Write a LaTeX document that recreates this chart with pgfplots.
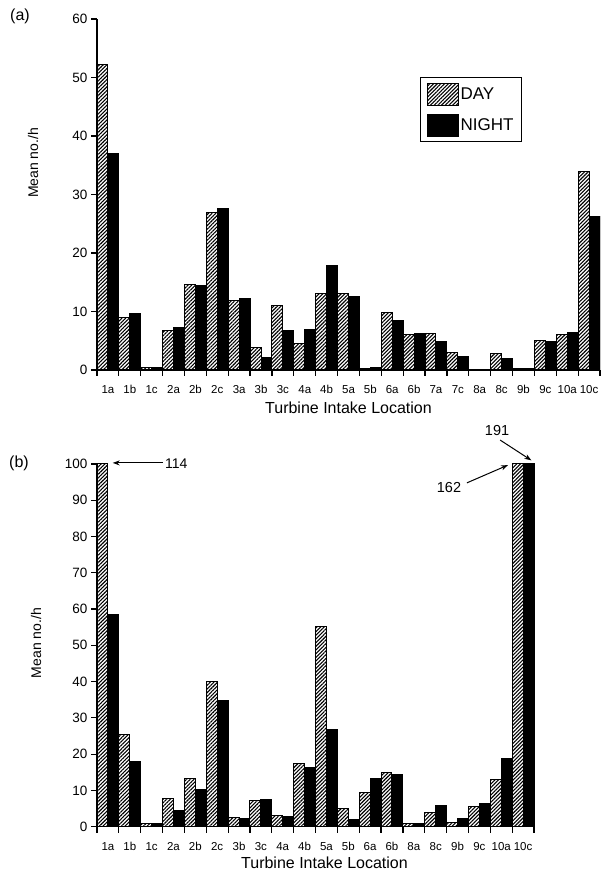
\documentclass[border=0pt]{standalone}
\usepackage{fontspec}
\setmainfont{Liberation Sans}
\usepackage{pgfplots}
\usepackage{pgfplotstable}
\pgfplotsset{compat=1.18}
\usetikzlibrary{patterns.meta,arrows.meta}

% panel (a): 23 intake locations
\pgfplotstableread{
x day night
0 52.3 37.0
1 9.0 9.6
2 0.5 0.4
3 6.7 7.2
4 14.6 14.4
5 26.9 27.6
6 11.8 12.3
7 3.8 2.2
8 11.1 6.7
9 4.6 7.0
10 13.1 17.9
11 13.1 12.5
12 0.2 0.45
13 9.9 8.4
14 6.0 6.3
15 6.3 4.8
16 3.0 2.3
17 0.1 0.1
18 2.8 1.9
19 0.2 0.3
20 5.1 4.9
21 6.1 6.4
22 34.0 26.3
}\tabA

% panel (b): 20 intake locations (bars at 100 are cut off: 114, 162, 191)
\pgfplotstableread{
x day night
0 100 58.6
1 25.3 17.9
2 1.0 0.85
3 7.9 4.5
4 13.4 10.2
5 40.0 34.7
6 2.6 2.3
7 7.1 7.6
8 3.1 2.8
9 17.3 16.2
10 55.3 26.8
11 4.9 1.9
12 9.5 13.2
13 14.9 14.3
14 0.75 0.9
15 3.8 5.8
16 1.1 2.2
17 5.7 6.4
18 13.0 18.9
19 100 100
}\tabB

\pgfplotsset{
  turb/.style={
    scale only axis,
    ybar=0pt, bar width=10.93pt,
    axis lines*=left,
    axis line style={line width=1.2pt,-},
    tick align=outside,
    major tick length=6pt,
    tick style={line width=1.2pt,black},
    xticklabels={},
    extra x tick style={major tick length=0pt},
    xticklabel style={font=\fontsize{11.5}{11.5}\selectfont, yshift=-12pt},
    yticklabel style={font=\fontsize{13.5}{13.5}\selectfont},
    /pgf/number format/assume math mode=true,
    xlabel={Turbine Intake Location},
    xlabel style={font=\fontsize{16}{16}\selectfont, at={(rel axis cs:0.5,0)}, anchor=center},
    ylabel={Mean no./h},
    ylabel style={font=\fontsize{14}{14}\selectfont, anchor=center},
    ymin=0,
  },
  dayb/.style={draw=black, line width=1pt, fill=white,
    pattern={Lines[angle=45,distance=2.6pt,line width=1.1pt]},
    legend image code/.code={\draw[##1] (0pt,-11pt) rectangle (31pt,11pt);}},
  nightb/.style={draw=black, line width=1pt, fill=black,
    legend image code/.code={\draw[##1] (0pt,-11pt) rectangle (31pt,11pt);}},
}

\begin{document}
\begin{tikzpicture}
\path[use as bounding box] (0,0) rectangle (600pt,874pt);

\begin{axis}[turb,
  at={(97pt,504pt)}, anchor=south west,
  width=503pt, height=351pt,
  xmin=-0.5, xmax=22.5, ymax=60,
  xtick={-0.5,0.5,...,22.5},
  extra x ticks={0,...,22},
  extra x tick labels={1a,1b,1c,2a,2b,2c,3a,3b,3c,4a,4b,5a,5b,6a,6b,7a,7c,8a,8c,9b,9c,10a,10c},
  ytick={0,10,...,60},
  xlabel style={yshift=-38pt},
  ylabel style={at={(rel axis cs:0,0.59)}, yshift=64pt},
  legend style={at={(0.642,0.835)}, anchor=north west, draw=black, line width=1.2pt,
    font=\fontsize{17}{19}\selectfont, row sep=8pt, inner xsep=6pt, inner ysep=5pt},
  legend cell align=left,
]
\addplot[dayb] table[x=x,y=day] {\tabA};
\addlegendentry{DAY}
\addplot[nightb] table[x=x,y=night] {\tabA};
\addlegendentry{NIGHT}
\end{axis}

\begin{axis}[turb,
  at={(97pt,47.3pt)}, anchor=south west,
  width=437pt, height=362.7pt,
  xmin=-0.5, xmax=19.5, ymax=100,
  clip=false,
  xtick={-0.5,0.5,...,19.5},
  extra x ticks={0,...,19},
  extra x tick labels={1a,1b,1c,2a,2b,2c,3b,3c,4a,4b,5a,5b,6a,6b,8a,8c,9b,9c,10a,10c},
  ytick={0,10,...,100},
  xlabel style={yshift=-36pt, xshift=9pt},
  ylabel style={at={(rel axis cs:0,0.506)}, yshift=61pt},
]
\addplot[dayb] table[x=x,y=day] {\tabB};
\addplot[nightb] table[x=x,y=night] {\tabB};
\draw[-{Stealth[length=7pt,width=5pt]}, line width=1pt] (axis cs:2.52,100.3) -- (axis cs:0.22,100.3);
\node[anchor=west, font=\fontsize{14}{14}\selectfont, inner sep=1pt] at (axis cs:2.56,100.1) {114};
\node[font=\fontsize{14.5}{14.5}\selectfont] at (axis cs:15.61,93.4) {162};
\draw[-{Stealth[length=7pt,width=5pt]}, line width=1pt] (axis cs:16.43,94.8) -- (axis cs:18.31,99.7);
\node[font=\fontsize{14.5}{14.5}\selectfont] at (axis cs:17.81,109.1) {191};
\draw[-{Stealth[length=7pt,width=5pt]}, line width=1pt] (axis cs:17.95,106.6) -- (axis cs:19.38,101.0);
\end{axis}

\node[font=\fontsize{16}{16}\selectfont] at (20pt,857.5pt) {(a)};
\node[font=\fontsize{16}{16}\selectfont] at (19pt,410.5pt) {(b)};
\end{tikzpicture}
\end{document}
